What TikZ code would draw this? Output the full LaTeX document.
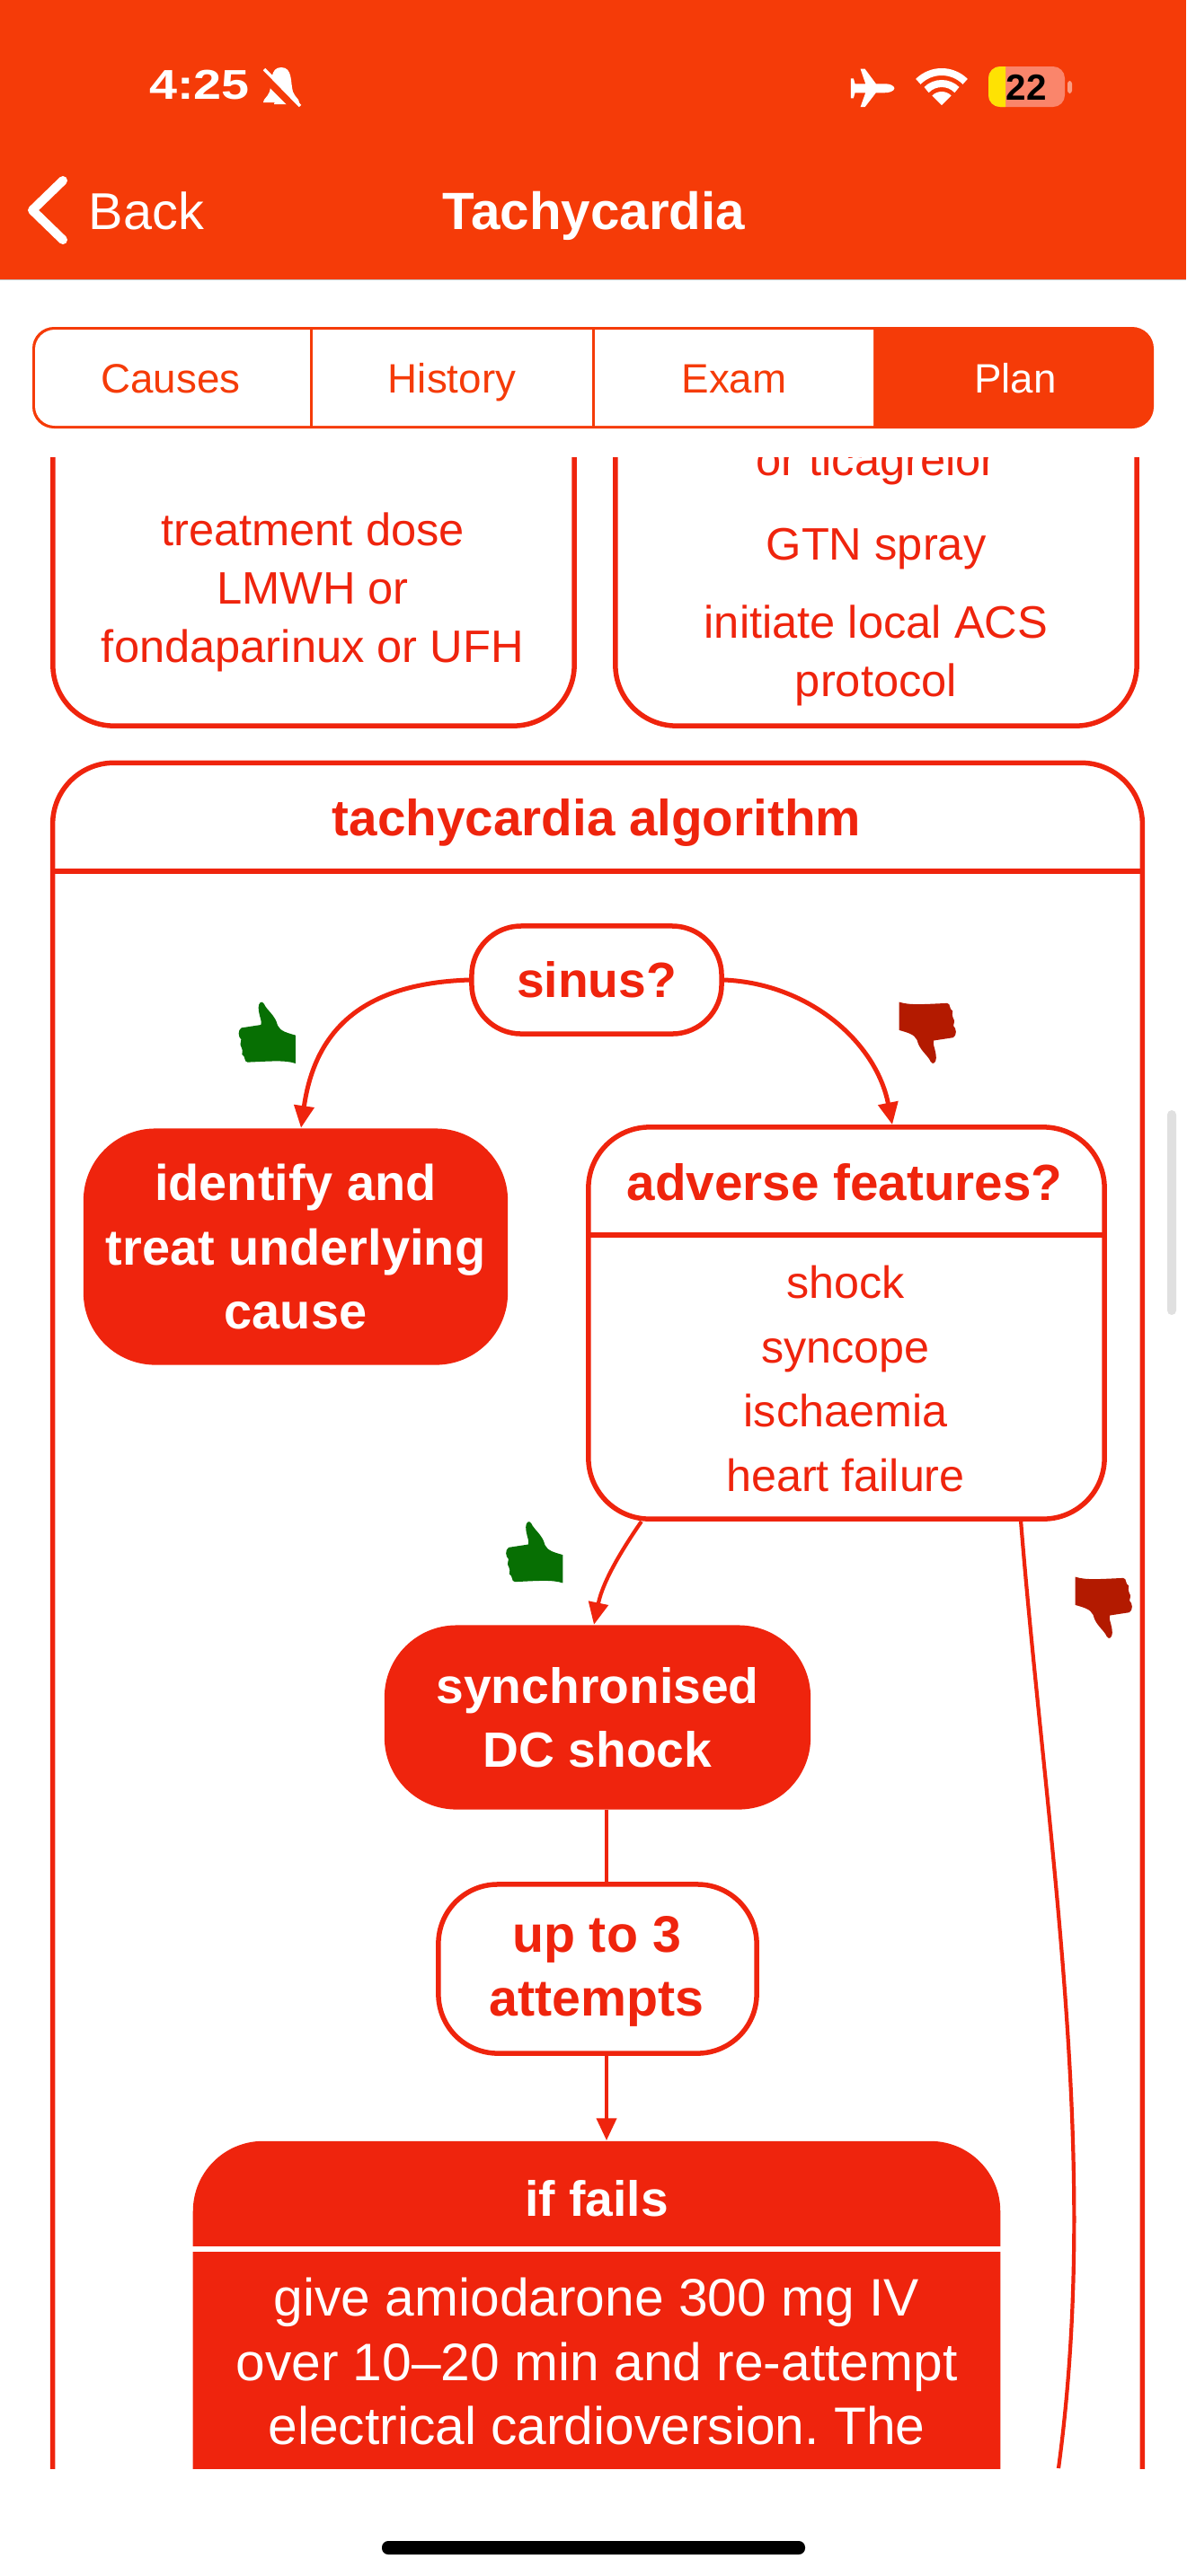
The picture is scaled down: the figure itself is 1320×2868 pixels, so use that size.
\documentclass[tikz,border=0pt]{standalone}
\usepackage{fontspec}
\setmainfont{Liberation Sans}
\usepackage{xcolor}
\usetikzlibrary{arrows.meta}
\definecolor{barorange}{HTML}{F53B08}
\definecolor{algred}{HTML}{EF240D}
\definecolor{thumbgreen}{HTML}{076F03}
\definecolor{thumbred}{HTML}{B31A00}
\tikzset{
  thintext/.style={text=algred,inner sep=0pt,align=center,font=\fontsize{14.4}{18.5}\selectfont},
  boldtext/.style={text=algred,inner sep=0pt,align=center,font=\fontsize{16.1}{20.3}\selectfont\bfseries},
  tabtext/.style={text=barorange,inner sep=0pt,anchor=base,font=\fontsize{13}{16}\selectfont},
  linebox/.style={draw=algred,line width=0.055cm,fill=white,inner sep=0pt},
  solidbox/.style={fill=algred,inner sep=0pt},
  flowline/.style={draw=algred,line width=0.042cm},
  flowarrow/.style={flowline,-{Triangle[length=7pt,width=6.2pt]}},
  thumbicon/.pic={
    \path[pic actions,x=0.00333cm,y=-0.00333cm,shift={(-291.5,-208.5)}]
      (386,218) -- (386,312) .. controls (350,300) and (300,305) .. (225,308)
      .. controls (212,306) and (220,288) .. (207,282) .. controls (206,272) and (212,264) .. (205,258)
      .. controls (198,250) and (204,238) .. (204,232) .. controls (194,224) and (192,200) .. (205,193)
      -- (270,183) .. controls (276,175) and (262,150) .. (262,125)
      .. controls (262,110) and (272,100) .. (280,112) .. controls (290,135) and (318,150) .. (326,185)
      .. controls (335,205) and (360,210) .. (386,218) -- cycle;
  }
}
\frenchspacing
\begin{document}
\begin{tikzpicture}[x=0.01cm,y=-0.01cm]
\useasboundingbox (0,0) rectangle (1320,2868);
% Top bar
\fill[barorange] (0,0) rectangle (1320,311);
\draw[black!25,line width=0.01cm] (0,311.5) -- (1320,311.5);
\node[text=white,inner sep=0pt,font=\fontsize{13.2}{15}\selectfont\bfseries] (clock) at (222,95) {\scalebox{1.2}[1]{4:25}};
\fill[white] (313,75) .. controls (300,75) and (303,92) .. (300,102) .. controls (298,108) and (293,110) .. (293,114)
  -- (333,114) .. controls (333,110) and (328,108) .. (326,102) .. controls (323,92) and (326,75) .. (313,75) -- cycle;
\fill[white] (305,116) -- (321,116) arc[start angle=0,end angle=180,radius=8,y radius=-5] -- cycle;
\draw[barorange,line width=0.09cm] (291,82) -- (331,122);
\draw[white,line width=0.035cm] (294,77) -- (334,118);
\begin{scope}[shift={(880,50)},x=0.00333cm,y=-0.00333cm]
\fill[white] (347,145) .. controls (345,135) and (330,130) .. (315,130) -- (285,130) -- (248,80) -- (233,80) -- (250,130) -- (215,130)
  -- (210,112) -- (201,112) -- (201,178) -- (210,178) -- (215,160) -- (250,160) -- (233,208) -- (248,208) -- (285,160) -- (315,160)
  .. controls (330,160) and (345,155) .. (347,145) -- cycle;
\end{scope}
\fill[white] (1048,117) -- ++(-135:15) arc[start angle=-135,end angle=-45,radius=15] -- cycle;
\draw[white,line width=0.08cm] (1048,117) ++(-135:24) arc[start angle=-135,end angle=-45,radius=24];
\draw[white,line width=0.08cm] (1048,117) ++(-135:37) arc[start angle=-135,end angle=-45,radius=37];
\fill[white,opacity=0.5,rounded corners=0.03cm] (1188,90) rectangle (1193,104);
\fill[barorange!55!white!90!red,rounded corners=0.13cm] (1100,74) rectangle (1185,119);
\begin{scope}
\clip (1100,74) rectangle (1119,119);
\fill[yellow!85!orange,rounded corners=0.13cm] (1100,74) rectangle (1185,119);
\end{scope}
\node[text=black,inner sep=0pt,font=\fontsize{11.5}{14}\selectfont\bfseries] (battery) at (1142,97) {22};
\draw[white,line width=0.1cm,line cap=round,line join=round] (70,201) -- (36,234) -- (70,267);
\node[text=white,inner sep=0pt,font=\fontsize{16.4}{20}\selectfont] (back) at (163,235) {Back};
\node[text=white,inner sep=0pt,font=\fontsize{16.6}{20}\selectfont\bfseries] (title) at (661,240) {Tachycardia};
% Tabs
\fill[barorange,rounded corners=0.24cm] (36,364) rectangle (1284,477);
\fill[white] (972,367) [rounded corners=0.22cm] -- (39,367) -- (39,474) [sharp corners] -- (972,474) -- cycle;
\draw[barorange,line width=0.03cm] (346,366) -- (346,475);
\draw[barorange,line width=0.03cm] (660,366) -- (660,475);
\node[tabtext] (causes) at (190,437) {Causes};
\node[tabtext] (history) at (503,437) {History};
\node[tabtext] (exam) at (817,437) {Exam};
\node[tabtext,text=white] (plan) at (1130,437) {Plan};
% Scrolling part
\begin{scope}
\clip (0,509) rectangle (1320,2748);
\node[linebox,rounded corners=0.68cm,minimum width=5.8cm,minimum height=4.8cm] (leftbox) at (349,568) {};
\node[linebox,rounded corners=0.68cm,minimum width=5.8cm,minimum height=4.8cm] (rightbox) at (975,568) {};
\node[thintext] (lmwh) at (348,659.5) {treatment dose\\LMWH or\\fondaparinux or UFH};
\node[thintext] (ticag) at (975,516) {or ticagrelor};
\node[thintext] (gtn) at (975,611) {GTN spray};
\node[thintext] (acs) at (975,730) {initiate local ACS\\protocol};
% Algorithm
\node[linebox,rounded corners=0.68cm,minimum width=12.12cm,minimum height=25cm] (algbox) at (665,2100) {};
\draw[flowline,line width=0.055cm] (algbox.west |- 0,970) -- (algbox.east |- 0,970);
\node[boldtext] (algtitle) at (664,916) {tachycardia algorithm};
\node[linebox,rounded corners=0.55cm,minimum width=2.78cm,minimum height=1.2cm] (sinus) at (664,1091) {};
\node[boldtext,font=\fontsize{15.7}{20.3}\selectfont\bfseries] (sinustext) at (664,1091) {sinus?};
\node[solidbox,rounded corners=0.8cm,minimum width=4.72cm,minimum height=2.63cm,text=white,align=center,font=\fontsize{15.9}{20.3}\selectfont\bfseries] (identify) at (329,1388) {identify and\\treat underlying\\cause};
\node[linebox,rounded corners=0.68cm,minimum width=5.74cm,minimum height=4.36cm] (adverse) at (942,1473) {};
\draw[flowline,line width=0.055cm] (adverse.west |- 0,1375) -- (adverse.east |- 0,1375);
\node[boldtext] (advtitle) at (940,1316) {adverse features?};
\node[thintext,font=\fontsize{14.3}{20.4}\selectfont] (advlist) at (941,1535) {shock\\syncope\\ischaemia\\heart failure};
\node[solidbox,rounded corners=0.8cm,minimum width=4.74cm,minimum height=2.05cm,text=white,align=center,font=\fontsize{15.7}{20.3}\selectfont\bfseries] (shock) at (665,1912) {synchronised\\DC shock};
\node[linebox,rounded corners=0.66cm,minimum width=3.54cm,minimum height=1.88cm] (attempts) at (665,2192) {};
\node[boldtext,font=\fontsize{16.3}{20.3}\selectfont\bfseries] (attemptstext) at (664,2195) {up to 3\\attempts};
\node[solidbox,rounded corners=0.78cm,minimum width=8.98cm,minimum height=8cm] (fails) at (664,2784) {};
\fill[white] (fails.west |- 0,2501) rectangle (fails.east |- 0,2507);
\node[text=white,inner sep=0pt,font=\fontsize{15.7}{20}\selectfont\bfseries] (failstitle) at (664,2448) {if fails};
\node[text=white,inner sep=0pt,align=center,font=\fontsize{16.7}{20.3}\selectfont] (failstext) at (664,2629) {give amiodarone 300 mg IV\\over 10--20 min and re-attempt\\electrical cardioversion. The};
% Arrows
\coordinate (adverseend) at (1178,2748);
\draw[flowarrow,line width=0.05cm] (sinus.west) .. controls (400,1095) and (350,1150) .. ([xshift=0.06cm]identify.north);
\draw[flowarrow,line width=0.05cm] (sinus.east) .. controls (900,1095) and (975,1160) .. ([xshift=0.51cm]adverse.north);
\draw[flowarrow] ([xshift=-2.28cm]adverse.south) .. controls (675,1750) and (668,1775) .. ([xshift=-0.04cm]shock.north);
\draw[flowline] ([xshift=0.1cm]shock.south) -- ([xshift=0.1cm]attempts.north);
\draw[flowarrow] ([xshift=0.1cm]attempts.south) -- ([xshift=0.11cm]fails.north);
\draw[flowline] ([xshift=1.94cm]adverse.south) .. controls (1165,2050) and (1225,2400) .. (adverseend);
% Thumbs
\pic[fill=thumbgreen] (thumba) at (297.5,1149.5) {thumbicon};
\pic[fill=thumbred,rotate=180] (thumbb) at (1032,1150) {thumbicon};
\pic[fill=thumbgreen] (thumbc) at (595,1728) {thumbicon};
\pic[fill=thumbred,rotate=180] (thumbd) at (1228,1790) {thumbicon};
\end{scope}
% Scrollbar and home bar
\fill[black!12,rounded corners=0.05cm] (1299,1236) rectangle (1309,1464);
\fill[black,rounded corners=0.07cm] (425,2829) rectangle (896,2844);
\end{tikzpicture}
\end{document}
